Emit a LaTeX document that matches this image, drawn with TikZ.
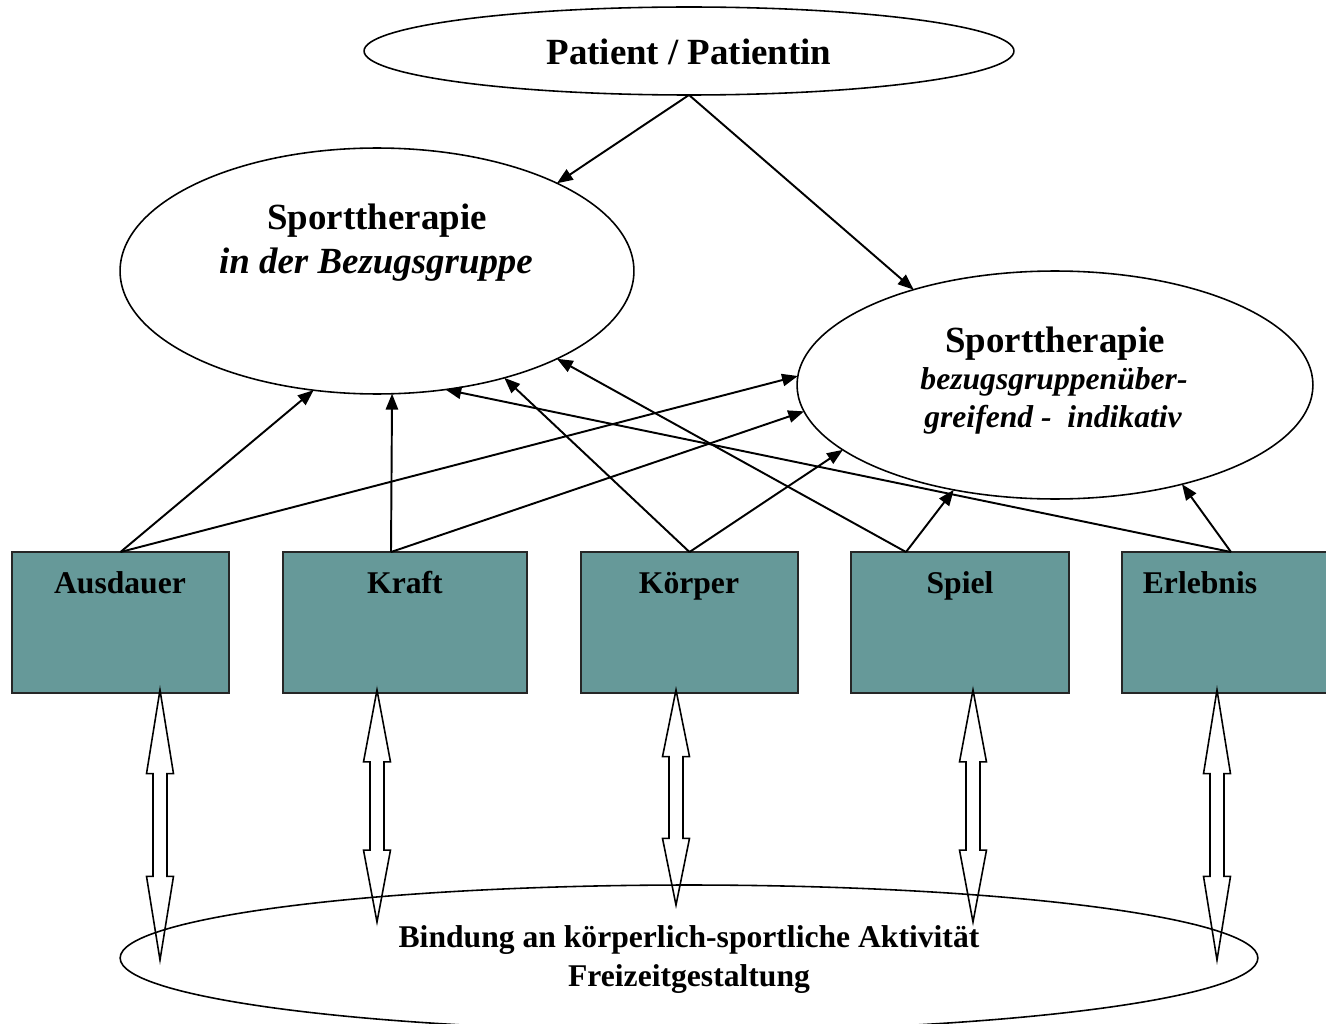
\documentclass[tikz,border=0pt]{standalone}
\usepackage{fontspec}
\setmainfont{Liberation Serif}
\usetikzlibrary{shapes.geometric,arrows.meta,calc}
\newcommand\dblarrow[3]{%
 \pgfmathsetmacro\hl{0.31*(#3-#2)}%
 \draw[dblstyle] (#1,#2) -- (#1+13.5,#2+\hl) -- (#1+7,#2+\hl) -- (#1+7,#3-\hl) -- (#1+13.5,#3-\hl) -- (#1,#3) -- (#1-13.5,#3-\hl) -- (#1-7,#3-\hl) -- (#1-7,#2+\hl) -- (#1-13.5,#2+\hl) -- cycle;}
\begin{document}
\begin{tikzpicture}[x=0.02cm,y=-0.02cm,
  ell/.style={draw,ellipse,line width=0.9pt,inner sep=0pt,outer sep=0pt},
  box/.style={draw=black!85,fill=boxteal,line width=1.1pt,minimum height=2.82cm,inner sep=0pt,outer sep=0pt},
  lab/.style={font=\bfseries\fontsize{18}{22}\selectfont,anchor=base},
  arr/.style={-{Triangle[length=9pt,width=7pt]},line width=1.1pt},
  dblstyle/.style={line width=0.9pt,line join=miter}]
\definecolor{boxteal}{HTML}{669999}
\useasboundingbox (0,0) rectangle (1326,1024);
% ellipses
\node[ell,minimum width=13cm,minimum height=1.76cm] (P) at (689,51) {};
\node[font=\bfseries\fontsize{21}{25}\selectfont,anchor=base] (Pt) at (689,65) {Patient / Patientin};
\node[ell,minimum width=10.28cm,minimum height=4.92cm] (L) at (377,271) {};
\node[font=\bfseries\fontsize{21}{25}\selectfont,anchor=base] (Lt1) at (377,230) {Sporttherapie};
\node[font=\bfseries\itshape\fontsize{21}{25}\selectfont,anchor=base] (Lt2) at (376,273) {in der Bezugsgruppe};
\node[ell,minimum width=10.32cm,minimum height=4.56cm] (R) at (1055,385) {};
\node[font=\bfseries\fontsize{21}{25}\selectfont,anchor=base] (Rt1) at (1055,352) {Sporttherapie};
\node[font=\bfseries\itshape\fontsize{18}{22}\selectfont,anchor=base] (Rt2) at (1054,389) {bezugsgruppenüber-};
\node[font=\bfseries\itshape\fontsize{18}{22}\selectfont,anchor=base] (Rt3) at (1053,427) {greifend -\ \ indikativ};
\node[ell,minimum width=22.76cm,minimum height=2.92cm] (B) at (689,958) {};
\node[lab] (Bt1) at (689,947) {Bindung an körperlich-sportliche Aktivität};
\node[lab] (Bt2) at (689,986) {Freizeitgestaltung};
% boxes
\node[box,minimum width=4.34cm] (A) at (120.5,622.5) {};
\node[box,minimum width=4.88cm] (K) at (405,622.5) {};
\node[box,minimum width=4.34cm] (Ko) at (689.5,622.5) {};
\node[box,minimum width=4.36cm] (S) at (960,622.5) {};
\node[box,minimum width=4.36cm] (E) at (1231,622.5) {};
\node[lab] (At) at (120,593) {Ausdauer};
\node[lab] (Kt) at (405,593) {Kraft};
\node[lab] (Kot) at (689,593) {Körper};
\node[lab] (St) at (960,593) {Spiel};
\node[lab] (Et) at (1200,593) {Erlebnis};
% arrows
\draw[arr] (P.south) -- (L.26.6);
\draw[arr] (P.south) -- (R.146.8);
\draw[arr] (A.north) -- (L.-118.5);
\draw[arr] (A.north) -- (R.178.4);
\draw[arr] ($(K.north)+(-14,0)$) -- (L.-83.5);
\draw[arr] ($(K.north)+(-14,0)$) -- (R.-174);
\draw[arr] (Ko.north) -- (L.-40.6);
\draw[arr] (Ko.north) -- (R.-163);
\draw[arr] ($(S.north)+(-54,0)$) -- (L.-26.2);
\draw[arr] ($(S.north)+(-54,0)$) -- (R.-134.4);
\draw[arr] (E.north) -- (L.-60.6);
\draw[arr] (E.north) -- (R.-38.8);
% double arrows
\dblarrow{160}{690}{960}
\dblarrow{377}{690}{922}
\dblarrow{676}{690}{905}
\dblarrow{973}{690}{922}
\dblarrow{1217}{690}{960}
\end{tikzpicture}
\end{document}
